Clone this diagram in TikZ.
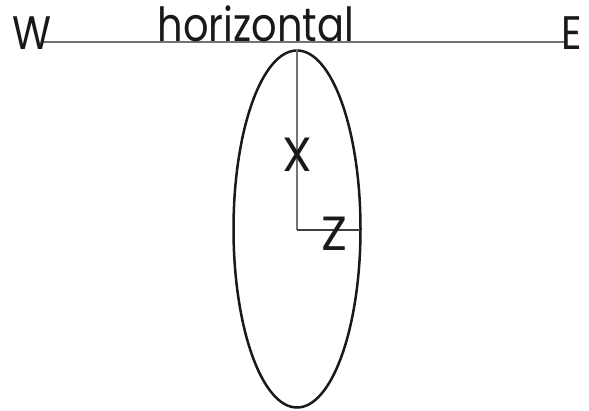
\documentclass[tikz,border=0pt]{standalone}
\usepackage{fontspec}
\setmainfont{Poppins}
\usetikzlibrary{shapes.geometric}
\begin{document}
\begin{tikzpicture}[x=1pt,y=1pt,
  lbl/.style={inner sep=0pt, anchor=base, xscale=0.85, font=\fontsize{47}{47}\selectfont, text=black!90},
  axlbl/.style={inner sep=0pt, anchor=base, font=\fontsize{48}{48}\selectfont, text=black!90},
  thin line/.style={draw=black!55, line width=1.3pt},
  axis line/.style={draw=black!75, line width=1.1pt}]
\useasboundingbox (0,0) rectangle (589,410);
\node[draw=black!90, line width=2.5pt, ellipse, minimum width=127pt, minimum height=357pt, inner sep=0pt] (ell) at (297,181) {};
\coordinate (west) at (43,368);
\coordinate (east) at (565,368);
\coordinate (corner) at (297,180);
\coordinate (zend) at (360,180);
\draw[thin line] (west) -- (east);
\draw[thin line] (ell.north) -- (corner);
\draw[axis line] (corner) -- (zend);
\node[lbl] (w) at (32,360) {W};
\node[lbl] (e) at (572,360) {E};
\node[lbl] (h) at (256,368) {horizontal};
\node[axlbl] (xl) at (297,238) {X};
\node[axlbl] (zl) at (334,159) {Z};
\end{tikzpicture}
\end{document}
